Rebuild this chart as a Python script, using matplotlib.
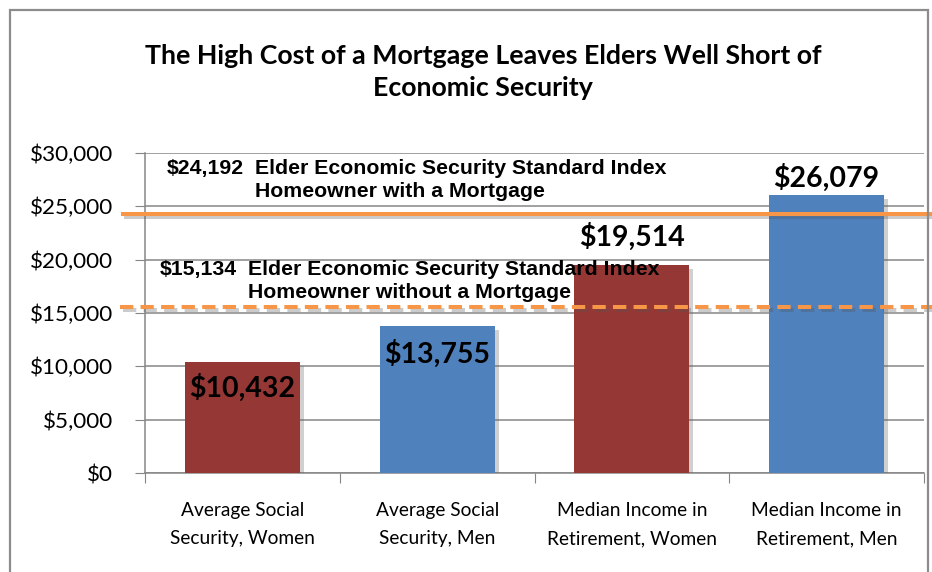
import matplotlib.pyplot as plt
import matplotlib.patheffects as pe
from matplotlib.patches import Rectangle

categories = ["Average Social\nSecurity, Women", "Average Social\nSecurity, Men",
              "Median Income in\nRetirement, Women", "Median Income in\nRetirement, Men"]
values = [10432, 13755, 19514, 26079]
value_labels = ["$10,432", "$13,755", "$19,514", "$26,079"]
bar_colors = ["#953735", "#4F81BD", "#953735", "#4F81BD"]
y_ticks = [0, 5000, 10000, 15000, 20000, 25000, 30000]
y_tick_labels = ["$0", "$5,000", "$10,000", "$15,000", "$20,000", "$25,000", "$30,000"]

# standard index lines (as drawn in the picture) and their notes
std_levels = [24250, 15550]
std_amounts = ["$24,192", "$15,134"]
std_line1 = ["Elder Economic Security Standard Index", "Elder Economic Security Standard Index"]
std_line2 = ["Homeowner with a Mortgage", "Homeowner without a Mortgage"]
note_y = [28050, 18550]

title = "The High Cost of a Mortgage Leaves Elders Well Short of\nEconomic Security"

W, H = 932, 572
fig = plt.figure(figsize=(W / 100, H / 100), dpi=100)
fig.patches.append(Rectangle((10 / W, -0.05), 918 / W, 1.05 - 10 / H, transform=fig.transFigure,
                             fill=False, edgecolor="#8c8c8c", lw=1.6))

ax = fig.add_axes([145 / W, (H - 473) / H, (924 - 145) / W, (473 - 153) / H])
x = list(range(len(values)))
shadow = [pe.SimplePatchShadow(offset=(3, -3), shadow_rgbFace="#666666", alpha=0.3), pe.Normal()]
bars = ax.bar(x, values, width=0.59, color=bar_colors, zorder=3)
for b in bars:
    b.set_path_effects(shadow)

ax.set_xlim(-0.5, len(values) - 0.5)
ax.set_ylim(0, 30000)
ax.set_yticks(y_ticks)
ax.set_yticklabels(y_tick_labels, fontfamily="Lato", fontsize=16.2)
ax.set_xticks([i - 0.5 for i in range(len(values) + 1)])
ax.set_xticklabels([])
ax.set_xticks(x, minor=True)
ax.set_xticklabels(categories, minor=True, fontfamily="Lato", fontsize=13.8, linespacing=1.78)
ax.tick_params(axis="x", which="minor", length=0, pad=21)
ax.tick_params(axis="both", which="major", length=7, color="#868686", direction="out")
ax.tick_params(axis="y", pad=16)
ax.grid(axis="y", color="#868686", lw=1.1, zorder=1)
for s in ["top", "right"]:
    ax.spines[s].set_visible(False)
for s in ["left", "bottom"]:
    ax.spines[s].set_color("#868686")
    ax.spines[s].set_linewidth(1.1)

# data labels: first two inside the bar top, last two above
label_offsets = [-26, -28, 28, 17]
for i, (v, t) in enumerate(zip(values, value_labels)):
    ax.annotate(t, (i, v), xytext=(0, label_offsets[i]), textcoords="offset pixels",
                ha="center", va="center", fontfamily="Lato", fontweight="bold", fontsize=20.5, zorder=6)

# standard index notes
note_font = dict(fontfamily="Liberation Sans", fontweight="bold", fontsize=15.3, ha="left", va="baseline",
                 textcoords="offset pixels", annotation_clip=False)
for amt, t1, t2, ny, dx in zip(std_amounts, std_line1, std_line2, note_y, [22, 15]):
    ax.annotate(amt, (-0.5, ny), xytext=(dx, 0), zorder=4, **note_font)
    ax.annotate(t1, (-0.5, ny), xytext=(dx + 88, 0), zorder=4, **note_font)
    ax.annotate(t2, (-0.5, ny), xytext=(dx + 88, -23), zorder=4, **note_font)

line_shadow = [pe.SimpleLineShadow(offset=(2, -2), shadow_color="#555555", alpha=0.3), pe.Normal()]
l1 = ax.axhline(std_levels[0], xmin=-0.028, xmax=1.02, color="#F79646", lw=2.9, clip_on=False, zorder=5)
l2 = ax.axhline(std_levels[1], xmin=-0.032, xmax=1.02, color="#F79646", lw=2.9, clip_on=False, zorder=5,
                dashes=(3.3, 1.8))
l1.set_path_effects(line_shadow)
l2.set_path_effects(line_shadow)

fig.text(483 / W, 1 - 72 / H, title, ha="center", va="center", fontfamily="Lato", fontweight="bold",
         fontsize=19.3, linespacing=1.45)

fig.savefig("out.png", dpi=100)
